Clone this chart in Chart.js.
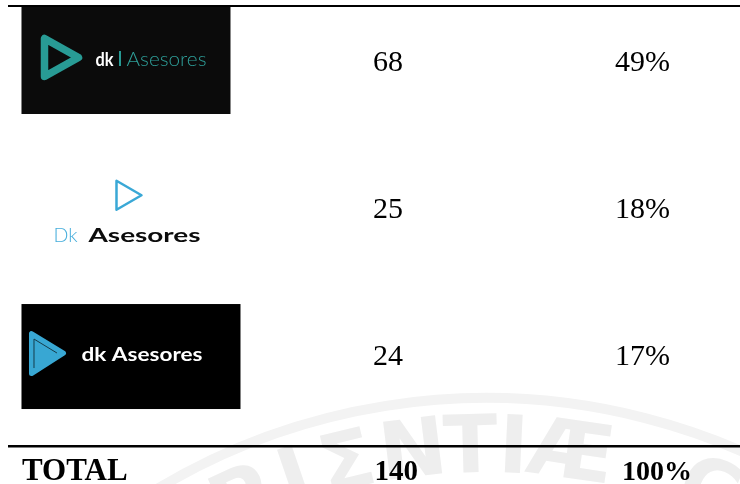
<!DOCTYPE html>
<html>
<head>
<meta charset="utf-8">
<script src="https://cdn.jsdelivr.net/npm/chart.js@4/dist/chart.umd.min.js"></script>
<style>
html,body{margin:0;padding:0;background:#fff;}
#wrap{width:740px;height:484px;}
</style>
</head>
<body>
<div id="wrap"><canvas id="c" width="740" height="484"></canvas></div>
<script>
// ---- data ----
const columns = ['Marca', 'Cantidad', 'Porcentaje'];
const brands = ['dk | Asesores', 'Dk Asesores', 'dk Asesores'];
const counts = [68, 25, 24];
const shares = [49, 18, 17];
const totalLabel = 'TOTAL';
const totalCount = 140;
const totalShare = 100;
const watermarkLetters = ['A', 'P', 'I', 'Σ', 'N', 'T', 'I', 'Æ', 'C'];

// ---- helpers ----
function fitText(ctx, txt, x, y, w, font, color) {
  ctx.save();
  ctx.font = font;
  const m = ctx.measureText(txt).width;
  ctx.translate(x, y);
  ctx.scale(w / m, 1);
  ctx.fillStyle = color;
  ctx.textAlign = 'left';
  ctx.textBaseline = 'alphabetic';
  ctx.fillText(txt, 0, 0);
  ctx.restore();
}
function tri(ctx, cx, cy, pts) {
  ctx.beginPath();
  ctx.moveTo(cx + pts[0][0], cy + pts[0][1]);
  ctx.lineTo(cx + pts[1][0], cy + pts[1][1]);
  ctx.lineTo(cx + pts[2][0], cy + pts[2][1]);
  ctx.closePath();
}
function drawLogo(ctx, idx, cx, cy, name) {
  const words = name.split(' ');
  if (idx === 0) {
    ctx.fillStyle = '#0b0b0b';
    ctx.fillRect(cx - 104.5, cy - 55.5, 209, 107);
    ctx.save();
    ctx.strokeStyle = '#289b95';
    ctx.lineWidth = 7.5;
    ctx.lineJoin = 'round';
    tri(ctx, cx, cy, [[-81.5, -24], [-81.5, 14], [-47.5, -5]]);
    ctx.stroke();
    ctx.restore();
    fitText(ctx, words[0], cx - 30.5, cy + 3, 18, 'bold 19px Lato', '#ffffff');
    ctx.fillStyle = '#289b95';
    ctx.fillRect(cx - 7, cy - 11.5, 2, 15);
    fitText(ctx, words[2], cx + 0.5, cy + 3, 80, '300 20px Lato', '#2e9f99');
  } else if (idx === 1) {
    ctx.save();
    ctx.strokeStyle = '#3aa8d6';
    ctx.lineWidth = 2.5;
    ctx.lineJoin = 'round';
    tri(ctx, cx, cy, [[-9.5, -28.5], [-9.5, 0.5], [15.5, -14]]);
    ctx.stroke();
    ctx.restore();
    fitText(ctx, words[0], cx - 72.5, cy + 33, 24, '300 20px Lato', '#45addb');
    fitText(ctx, words[1], cx - 37.5, cy + 33, 112, 'bold 19px Lato', '#0c0c0c');
  } else {
    ctx.fillStyle = '#000000';
    ctx.fillRect(cx - 104.5, cy - 52, 219, 105);
    ctx.save();
    ctx.fillStyle = '#38a7d3';
    ctx.strokeStyle = '#38a7d3';
    ctx.lineWidth = 5;
    ctx.lineJoin = 'round';
    tri(ctx, cx, cy, [[-94.5, -22.5], [-94.5, 17.5], [-62.5, -3]]);
    ctx.fill();
    ctx.stroke();
    ctx.strokeStyle = '#163c4a';
    ctx.lineWidth = 1;
    ctx.beginPath();
    ctx.moveTo(cx - 92, cy + 12);
    ctx.lineTo(cx - 92, cy - 17);
    ctx.lineTo(cx - 69, cy - 3);
    ctx.stroke();
    ctx.restore();
    fitText(ctx, name, cx - 44.5, cy + 5, 121, 'bold 19px Lato', '#ffffff');
  }
}

const tablePlugin = {
  id: 'tablePlugin',
  beforeDatasetsDraw(chart) {
    // faint seal watermark
    const ctx = chart.ctx;
    const a = 486, b = 1038;
    ctx.save();
    ctx.beginPath();
    ctx.rect(0, 0, chart.width, chart.height);
    ctx.clip();
    ctx.strokeStyle = '#f3f3f3';
    ctx.lineWidth = 10;
    ctx.beginPath();
    ctx.arc(a, b, 640, Math.PI * 1.2, Math.PI * 1.85);
    ctx.stroke();
    const xs = [185, 238, 292, 345, 412, 470, 514, 572, 712];
    ctx.fillStyle = '#eeeeee';
    ctx.font = 'bold 80px "DejaVu Sans"';
    ctx.textAlign = 'center';
    ctx.textBaseline = 'alphabetic';
    const rb = 566;
    watermarkLetters.forEach((ch, i) => {
      const th = Math.asin((xs[i] - a) / 600);
      ctx.save();
      ctx.translate(a, b);
      ctx.rotate(th);
      ctx.fillText(ch, 0, -rb);
      ctx.restore();
    });
    ctx.restore();
  },
  afterDatasetsDraw(chart) {
    const ctx = chart.ctx;
    const area = chart.chartArea;
    const xs = chart.scales.x;
    // rules
    ctx.save();
    ctx.fillStyle = '#000';
    ctx.fillRect(8, area.top - 1, area.right - 8, 2);
    ctx.fillRect(8, area.bottom - 1, area.right - 8, 2.5);
    ctx.restore();
    // logos
    chart.getDatasetMeta(0).data.forEach((el, i) => drawLogo(ctx, i, el.x, el.y, brands[i]));
    // counts & shares
    ctx.save();
    ctx.fillStyle = '#000';
    ctx.textBaseline = 'middle';
    ctx.textAlign = 'left';
    ctx.font = '30px "Liberation Serif"';
    chart.getDatasetMeta(1).data.forEach((el, i) => {
      ctx.fillText(String(counts[i]), el.x - 12.5, el.y + 1);
    });
    chart.getDatasetMeta(2).data.forEach((el, i) => {
      ctx.fillText(shares[i] + '%', el.x - 30, el.y + 1);
    });
    // total row
    ctx.textBaseline = 'alphabetic';
    const ty = area.bottom + 34;
    ctx.font = 'bold 31px "Liberation Serif"';
    ctx.fillText(totalLabel, xs.getPixelForValue(0) - 104, ty);
    ctx.font = 'bold 29px "Liberation Serif"';
    ctx.fillText(String(totalCount), xs.getPixelForValue(1) - 11, ty);
    ctx.font = 'bold 28px "Liberation Serif"';
    ctx.fillText(totalShare + '%', xs.getPixelForValue(2) - 23, ty);
    ctx.restore();
  }
};

new Chart(document.getElementById('c'), {
  type: 'scatter',
  data: {
    datasets: [
      { label: columns[0], data: brands.map((b, i) => ({ x: 0, y: i })), pointRadius: 0, pointHoverRadius: 0 },
      { label: columns[1], data: counts.map((v, i) => ({ x: 1, y: i })), pointRadius: 0, pointHoverRadius: 0 },
      { label: columns[2], data: shares.map((v, i) => ({ x: 2, y: i })), pointRadius: 0, pointHoverRadius: 0 }
    ]
  },
  options: {
    responsive: false,
    animation: false,
    devicePixelRatio: 1,
    layout: { padding: { top: 6, bottom: 38, left: 0, right: 0 } },
    plugins: { legend: { display: false }, tooltip: { enabled: false }, title: { display: false } },
    events: [],
    scales: {
      x: { type: 'linear', display: false, min: -0.4855, max: 2.3661 },
      y: { type: 'linear', display: false, reverse: true, min: -0.385, max: 2.613 }
    }
  },
  plugins: [tablePlugin]
});
</script>
</body>
</html>
